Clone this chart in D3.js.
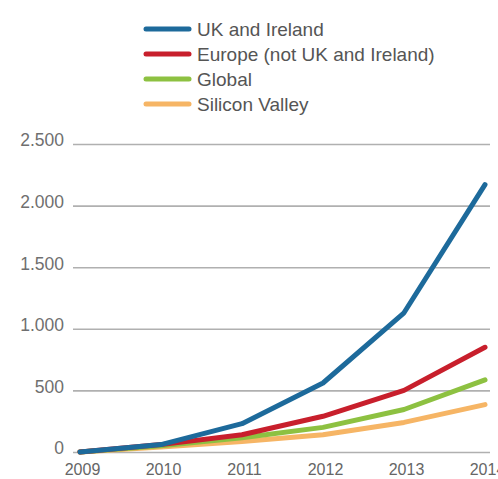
<!DOCTYPE html>
<html>
<head>
<meta charset="utf-8">
<script src="https://cdn.jsdelivr.net/npm/d3@7"></script>
<style>
  html, body { margin: 0; padding: 0; background: #fff; }
  svg { display: block; }
</style>
</head>
<body>
<svg id="chart" width="498" height="479"></svg>
<script>
// Years on the x axis
const years = [2009, 2010, 2011, 2012, 2013, 2014];

// Series values per year
const ukIreland   = [0, 60, 230, 560, 1130, 2170];
const europe      = [0, 60, 140, 290, 500, 850];
const globalVals  = [0, 50, 115, 200, 345, 585];
const siliconVal  = [0, 40, 85, 140, 240, 385];

const seriesNames = ["UK and Ireland", "Europe (not UK and Ireland)", "Global", "Silicon Valley"];
const seriesColors = ["#1d6a9b", "#c81f2c", "#8dc141", "#f6b565"];
const seriesValues = [ukIreland, europe, globalVals, siliconVal];

const yTicks = [0, 500, 1000, 1500, 2000, 2500];

const svg = d3.select("#chart");
const font = "'Liberation Sans', Arial, sans-serif";

const x = d3.scalePoint().domain(years).range([80, 485]);
const y = d3.scaleLinear().domain([0, 2500]).range([452, 144]);

const fmt = v => d3.format(",")(v).replace(/,/g, ".");

// Horizontal gridlines with labels on the left
const yAxis = d3.axisLeft(y)
  .tickValues(yTicks)
  .tickSize(-417)
  .tickFormat(fmt)
  .tickPadding(9);

const gy = svg.append("g")
  .attr("transform", "translate(73,0)")
  .call(yAxis);
gy.select(".domain").remove();
gy.selectAll(".tick line")
  .attr("stroke", "#b0b0b0")
  .attr("stroke-width", 1.6);
gy.selectAll(".tick text")
  .attr("fill", "#6f6f6f")
  .attr("y", -4)
  .attr("dy", "0.34em")
  .style("font-family", font)
  .style("font-size", "17.5px");

// Year labels below the baseline
const xAxis = d3.axisBottom(x).tickSize(0).tickPadding(12).tickFormat(d3.format("d"));
const gx = svg.append("g")
  .attr("transform", "translate(2,452)")
  .call(xAxis);
gx.select(".domain").remove();
gx.selectAll(".tick text")
  .attr("fill", "#666")
  .style("font-family", font)
  .style("font-size", "16px");

// Series lines, drawn back to front so UK and Ireland sits on top
const line = d3.line()
  .x((d, i) => x(years[i]))
  .y(d => y(d));

const order = [3, 2, 1, 0];
svg.append("g").selectAll("path")
  .data(order)
  .join("path")
  .attr("d", i => line(seriesValues[i]))
  .attr("fill", "none")
  .attr("stroke", i => seriesColors[i])
  .attr("stroke-width", 5)
  .attr("stroke-linejoin", "round")
  .attr("stroke-linecap", "round");

// Legend
const legend = svg.append("g");
const legendY = d3.scalePoint().domain(seriesNames).range([29, 104]);
seriesNames.forEach((name, i) => {
  const ly = legendY(name);
  legend.append("line")
    .attr("x1", 146).attr("x2", 189)
    .attr("y1", ly).attr("y2", ly)
    .attr("stroke", seriesColors[i])
    .attr("stroke-width", 5)
    .attr("stroke-linecap", "round");
  legend.append("text")
    .attr("x", 197)
    .attr("y", ly)
    .attr("dy", "0.35em")
    .attr("fill", "#555")
    .style("font-family", font)
    .style("font-size", "19px")
    .text(name);
});
</script>
</body>
</html>
